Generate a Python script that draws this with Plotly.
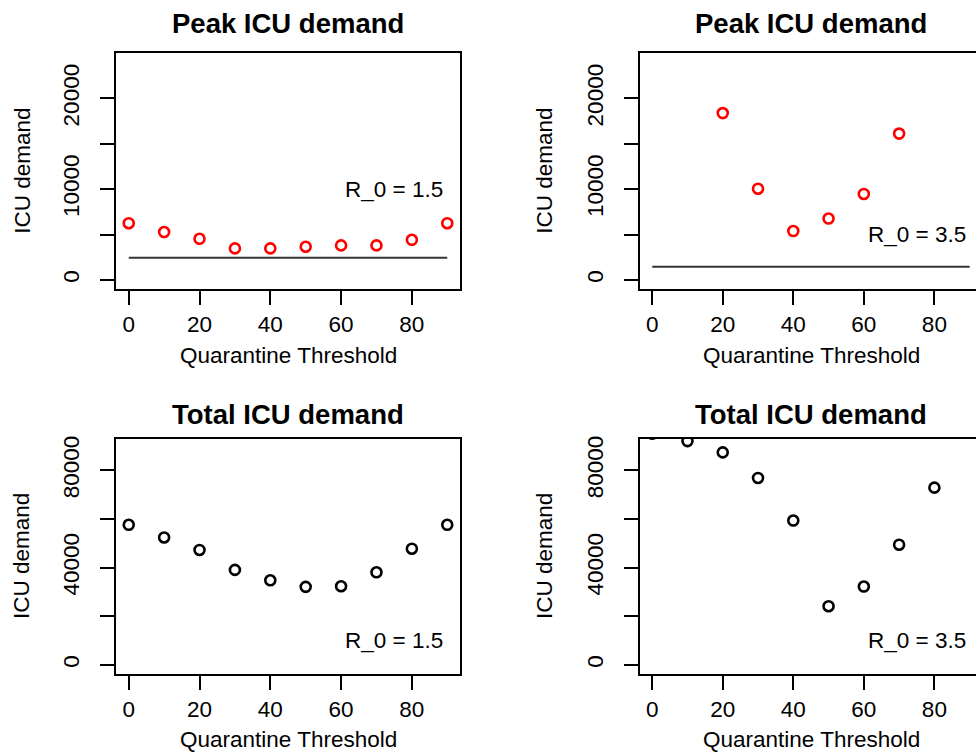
import plotly.graph_objects as go

threshold = [0, 10, 20, 30, 40, 50, 60, 70, 80, 90]
peak_r15 = [6250, 5270, 4530, 3470, 3470, 3650, 3800, 3800, 4420, 6250]
peak_r35 = [None, None, 18390, 10050, 5380, 6760, 9470, 16130, None, None]
total_r15 = [57600, 52400, 47250, 39060, 34800, 32100, 32340, 38070, 47780, 57600]
total_r35 = [95000, 92000, 87370, 76840, 59360, 24150, 32220, 49410, 72870, None]
capacity_r15 = 2450
capacity_r35 = 1450
r0_labels = ["R_0 = 1.5", "R_0 = 3.5"]
peak_ticks = [0, 5000, 10000, 15000, 20000]
peak_ticktext = ["0", "", "10000", "", "20000"]
total_ticks = [0, 20000, 40000, 60000, 80000]
total_ticktext = ["0", "", "40000", "", "80000"]
x_ticks = [0, 20, 40, 60, 80]

FONT = "Liberation Sans, Arial, Helvetica, sans-serif"
FS = 22.5
W, H = 976, 755

fig = go.Figure()

def px_x(p):
    return p / W

def px_y(p):
    return 1 - p / H

xl = [px_x(116), px_x(460)]
xr = [px_x(639.5), 1.0]
yt = [px_y(286.7), px_y(50.7)]
yb = [px_y(673.3), px_y(437.7)]

panels = [
    ("x", "y", xl, yt, [-3.6, 93.6], [-960, 24960], peak_r15, peak_ticks, peak_ticktext, "red", capacity_r15, r0_labels[0], 10000),
    ("x2", "y2", xr, yt, [-3.6, 91.8], [-960, 24960], peak_r35, peak_ticks, peak_ticktext, "red", capacity_r35, r0_labels[1], 5000),
    ("x3", "y3", xl, yb, [-3.6, 93.6], [-3570, 92880], total_r15, total_ticks, total_ticktext, "black", None, r0_labels[0], 10000),
    ("x4", "y4", xr, yb, [-3.6, 91.8], [-3570, 92880], total_r35, total_ticks, total_ticktext, "black", None, r0_labels[1], 10000),
]

axis_common = dict(
    showgrid=False, zeroline=False, showline=True, linecolor="black", linewidth=2,
    ticks="outside", ticklen=14, tickwidth=2, tickcolor="black",
    tickfont=dict(family=FONT, size=FS, color="black"),
)

annotations = []
for i, (xa, ya, xd, yd, xrng, yrng, yvals, ytv, ytt, col, cap, lab, laby) in enumerate(panels):
    right = i % 2 == 1
    xkey = "xaxis" + ("" if xa == "x" else xa[1:])
    ykey = "yaxis" + ("" if ya == "y" else ya[1:])
    fig.add_trace(go.Scatter(
        x=threshold, y=yvals, mode="markers", xaxis=xa, yaxis=ya,
        marker=dict(symbol="circle-open", size=10, color=col, line=dict(width=2.6, color=col)),
        showlegend=False, hoverinfo="skip",
    ))
    if cap is not None:
        fig.add_trace(go.Scatter(
            x=[threshold[0], threshold[-1]], y=[cap, cap], mode="lines", xaxis=xa, yaxis=ya,
            line=dict(color="#333333", width=2), showlegend=False, hoverinfo="skip",
        ))
    fig.layout[xkey] = dict(
        axis_common, domain=xd, range=xrng, anchor=ya, tickvals=x_ticks,
        ticktext=[str(v) for v in x_ticks], mirror=True, ticklabelstandoff=0,
    )
    fig.layout[ykey] = dict(
        axis_common, domain=yd, range=yrng, anchor=xa, tickvals=ytv, ticktext=ytt,
        tickangle=-90, mirror=(not right), ticklabelstandoff=12,
    )
    annotations.append(dict(
        x=75, y=laby, xref=xa, yref=ya, text=lab, showarrow=False,
        font=dict(family=FONT, size=FS, color="black"), xanchor="center", yanchor="middle",
    ))

titles = [("Peak ICU demand", 288, 21), ("Peak ICU demand", 811, 21),
          ("Total ICU demand", 288, 413), ("Total ICU demand", 811, 413)]
for t, x, y in titles:
    annotations.append(dict(
        x=px_x(x), y=px_y(y), xref="paper", yref="paper", text="<b>" + t + "</b>",
        showarrow=False, font=dict(family=FONT, size=27.5, color="black"),
        xanchor="center", yanchor="middle",
    ))

for x, y in [(288, 354), (811, 354), (288, 739.5), (811, 739.5)]:
    annotations.append(dict(
        x=px_x(x), y=px_y(y), xref="paper", yref="paper", text="Quarantine Threshold",
        showarrow=False, font=dict(family=FONT, size=FS, color="black"),
        xanchor="center", yanchor="middle",
    ))

for x, y in [(21.7, 168.7), (543.8, 168.7), (21.7, 555.5), (543.8, 555.5)]:
    annotations.append(dict(
        x=px_x(x), y=px_y(y), xref="paper", yref="paper", text="ICU demand",
        showarrow=False, textangle=-90, font=dict(family=FONT, size=FS, color="black"),
        xanchor="center", yanchor="middle",
    ))

fig.update_layout(
    width=W, height=H, margin=dict(l=0, r=0, t=0, b=0),
    paper_bgcolor="white", plot_bgcolor="white",
    annotations=annotations, showlegend=False,
)

fig.write_html(
    "out.html",
    config={"displayModeBar": False},
    post_script="document.body.style.margin='0';document.body.style.padding='0';document.body.style.overflow='hidden';",
)
